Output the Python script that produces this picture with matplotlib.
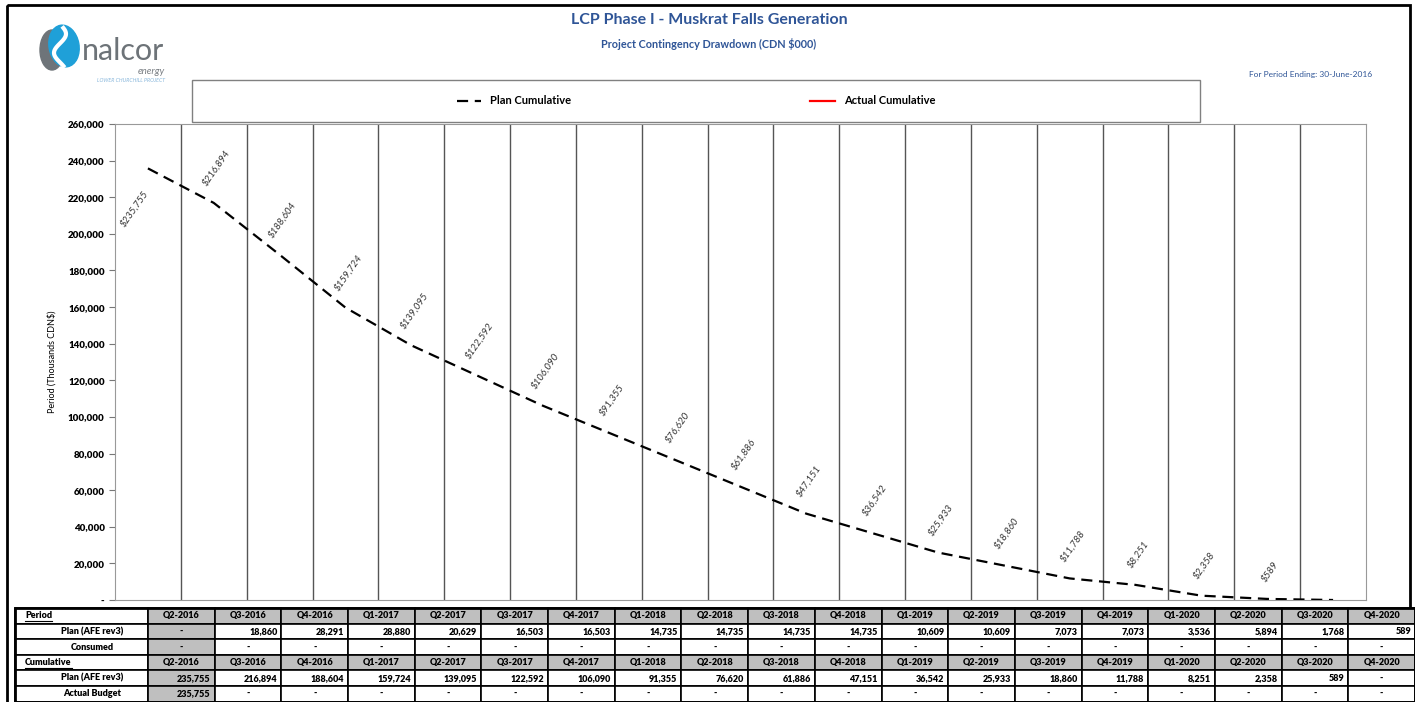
import matplotlib

matplotlib.use("Agg")
import matplotlib.patches as mpatches
import matplotlib.pyplot as plt
import numpy as np
from matplotlib.ticker import FixedLocator, FuncFormatter

W, H = 1415, 702
TITLE_BLUE = "#2f5597"
CELL_GRAY = "#bfbfbf"
GRID = "#555555"
NARROW = ["Lato", "DejaVu Sans"]
HEAD = ["Lato", "DejaVu Sans"]

# ---- data ----
periods = ["Q2-2016", "Q3-2016", "Q4-2016", "Q1-2017", "Q2-2017", "Q3-2017", "Q4-2017",
           "Q1-2018", "Q2-2018", "Q3-2018", "Q4-2018", "Q1-2019", "Q2-2019", "Q3-2019",
           "Q4-2019", "Q1-2020", "Q2-2020", "Q3-2020", "Q4-2020"]
plan_period = [None, 18860, 28291, 28880, 20629, 16503, 16503, 14735, 14735, 14735,
               14735, 10609, 10609, 7073, 7073, 3536, 5894, 1768, 589]
consumed = [None] * 19
plan_cum = [235755, 216894, 188604, 159724, 139095, 122592, 106090, 91355, 76620,
            61886, 47151, 36542, 25933, 18860, 11788, 8251, 2358, 589, 0]
actual_cum = [235755] + [np.nan] * 18

fig = plt.figure(figsize=(W / 100, H / 100), dpi=100)


def px_axes(x0, y0, x1, y1):
    return [x0 / W, 1 - y1 / H, (x1 - x0) / W, (y1 - y0) / H]


# ---- chart ----
ax = fig.add_axes(px_axes(115, 124, 1366, 600))
x = np.arange(len(periods))
plan_line, = ax.plot(x, plan_cum, color="black", lw=1.6, ls=(0, (5, 3)),
                     label="Plan Cumulative", zorder=3)
actual_line, = ax.plot(x, actual_cum, color="red", lw=1.6, label="Actual Cumulative")

ax.set_xlim(-0.5, len(periods) - 0.5)
ax.set_ylim(0, 260000)
ax.yaxis.set_major_locator(FixedLocator(np.arange(0, 260001, 20000)))
ax.yaxis.set_major_formatter(FuncFormatter(lambda v, p: "-" if v == 0 else f"{v:,.0f}"))
ax.set_xticks(x[:-1] + 0.5)
ax.tick_params(axis="x", length=0, labelbottom=False)
ax.grid(axis="x", color=GRID, lw=1)
ax.tick_params(axis="y", length=4, width=0.8, color="#777777", labelsize=7)
for lab in ax.get_yticklabels():
    lab.set_fontweight("heavy")
    lab.set_family(NARROW)
for sp in ax.spines.values():
    sp.set_color("#999999")
ax.set_ylabel("Period (Thousands CDN$)", fontsize=6.5, labelpad=8, family=HEAD)

for i, v in enumerate(plan_cum):
    if v == 0:
        continue
    if i == 0:
        ax.annotate(f"${v:,}", (i, v), xytext=(-10, -15), textcoords="offset points",
                    rotation=55, ha="center", va="top", fontsize=7, style="italic",
                    color="#333333", family=HEAD)
    else:
        ax.annotate(f"${v:,}", (i, v), xytext=(2, 11), textcoords="offset points",
                    rotation=55, ha="center", va="bottom", fontsize=7, style="italic",
                    color="#333333", family=HEAD)

fig.legend(handles=[plan_line, actual_line], loc="center",
           bbox_to_anchor=(696 / W, 1 - 101 / H), ncol=2, frameon=False,
           columnspacing=21.5, handlelength=2.2,
           prop=dict(weight="bold", size=8, family=HEAD))

# ---- overlay in pixel coords ----
ov = fig.add_axes([0, 0, 1, 1])
ov.set_xlim(0, W)
ov.set_ylim(H, 0)
ov.axis("off")

ov.add_patch(mpatches.Rectangle((7, 5), 1403, 700, fill=False, lw=2, ec="black"))
ov.add_patch(mpatches.Rectangle((192, 80), 1008, 42, fill=False, lw=1, ec="#808080"))

ov.text(709, 20, "LCP Phase I - Muskrat Falls Generation", ha="center", va="center",
        fontsize=11.5, fontweight="bold", color=TITLE_BLUE, family=HEAD)
ov.text(709, 44, "Project Contingency Drawdown (CDN $000)", ha="center", va="center",
        fontsize=7.8, fontweight="bold", color=TITLE_BLUE, family=HEAD)
ov.text(1372, 74, "For Period Ending: 30-June-2016", ha="right", va="center",
        fontsize=6, color=TITLE_BLUE, family=HEAD)

# logo
ov.add_patch(mpatches.Ellipse((52, 50), 24, 40, color="#6e7479"))
ov.add_patch(mpatches.Ellipse((64, 46), 30, 42, angle=-10, color="#1fa0d8"))
t = np.linspace(0, 1, 40)
ov.plot(60 + 6 * np.sin(2 * np.pi * t + 0.6), 28 + 38 * t, color="white", lw=3)
ov.text(82, 60, "nalcor", ha="left", va="baseline", fontsize=22, color="#6d7378",
        family=HEAD)
ov.text(165, 74, "energy", ha="right", va="baseline", fontsize=7, style="italic",
        color="#7a7f84", family=HEAD)
ov.text(165, 80, "LOWER CHURCHILL PROJECT", ha="right", va="center", fontsize=3.8,
        style="italic", color="#8ab8dc", family=HEAD)

# ---- table ----
lab_x0, lab_x1 = 15, 148
cw = (1415 - lab_x1) / len(periods)
top, rh = 608, 15.6
rows = [
    ("Period", "header", periods),
    ("Plan (AFE rev3)", "num", plan_period),
    ("Consumed", "num", consumed),
    ("Cumulative", "header", periods),
    ("Plan (AFE rev3)", "num", plan_cum),
    ("Actual Budget", "num", actual_cum),
]
tkw = dict(fontsize=6.5, fontweight="heavy", family=NARROW, color="black")
underline = []
for r, (label, kind, vals) in enumerate(rows):
    y0 = top + r * rh
    yc = y0 + rh / 2
    ov.add_patch(mpatches.Rectangle((lab_x0, y0), lab_x1 - lab_x0, rh, fc="white",
                                    ec="black", lw=1.2))
    if kind == "header":
        tt = ov.text(25, yc, label, ha="left", va="center", **tkw)
        underline.append(tt)
    else:
        ov.text(92, yc, label, ha="center", va="center", **tkw)
    for j, v in enumerate(vals):
        x0 = lab_x1 + j * cw
        face = CELL_GRAY if (kind == "header" or j == 0) else "white"
        ov.add_patch(mpatches.Rectangle((x0, y0), cw, rh, fc=face, ec="black", lw=1.2))
        if kind == "header":
            ov.text(x0 + cw / 2, yc, v, ha="center", va="center", **tkw)
        elif v is None or (isinstance(v, float) and np.isnan(v)) or v == 0:
            ov.text(x0 + cw / 2, yc, "-", ha="center", va="center", **tkw)
        else:
            ov.text(x0 + cw - 4, yc, f"{v:,.0f}", ha="right", va="center", **tkw)
ov.add_patch(mpatches.Rectangle((lab_x0, top), 1415 - lab_x0, rh * 6, fill=False,
                                ec="black", lw=2))

fig.canvas.draw()
rend = fig.canvas.get_renderer()
for tt in underline:
    bb = tt.get_window_extent(rend)
    yb = H - bb.y0 + 0.5
    ov.plot([bb.x0, bb.x1], [yb, yb], color="black", lw=0.8)

fig.savefig("out.png", dpi=100)
